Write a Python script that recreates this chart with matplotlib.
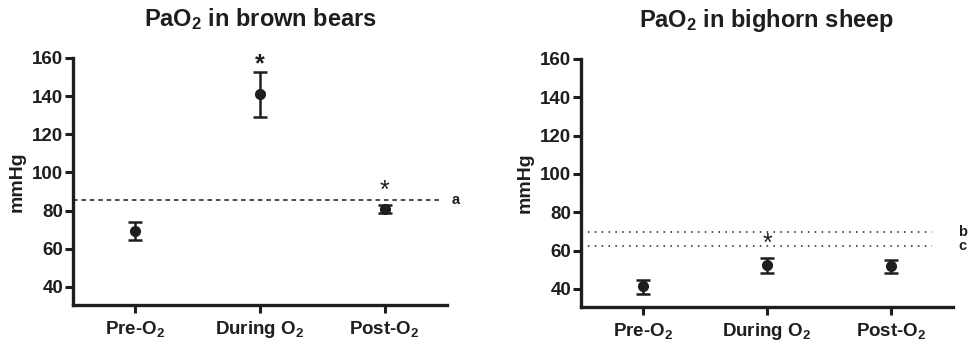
import numpy as np
import matplotlib
matplotlib.use("Agg")
import matplotlib.pyplot as plt

plt.rcParams['font.family'] = ['Liberation Sans', 'DejaVu Sans']
plt.rcParams['font.weight'] = 'bold'
plt.rcParams['axes.titleweight'] = 'bold'
plt.rcParams['axes.labelweight'] = 'bold'
plt.rcParams['mathtext.fontset'] = 'custom'
plt.rcParams['mathtext.rm'] = 'Liberation Sans:bold'
plt.rcParams['mathtext.default'] = 'rm'

ink = '#1e1e1e'

# данные
groups = ['Pre-O$_2$', 'During O$_2$', 'Post-O$_2$']
bear_mean = [69.5, 141.2, 80.9]
bear_hi = [73.8, 152.8, 83.0]
bear_lo = [64.8, 128.8, 78.5]
sheep_mean = [41.5, 52.5, 51.7]
sheep_hi = [44.8, 56.0, 55.2]
sheep_lo = [37.5, 48.5, 48.0]
bear_star = [None, '*', '*']
sheep_star = [None, '*', None]
bear_ref = [('a', 85.7)]
sheep_ref = [('b', 69.9), ('c', 62.3)]
titles = ['PaO$_2$ in brown bears', 'PaO$_2$ in bighorn sheep']

fig = plt.figure(figsize=(9.7, 3.41), dpi=100)
ax1 = fig.add_axes([0.0753, 0.1056, 0.3856, 0.7244])
ax2 = fig.add_axes([0.5990, 0.0997, 0.3835, 0.7273])

def panel(ax, mean, hi, lo, stars, refs, ls, xend, title):
    x = np.arange(len(mean))
    mean = np.array(mean)
    err = [mean - np.array(lo), np.array(hi) - mean]
    ax.errorbar(x, mean, yerr=err, fmt='o', color=ink, ms=7, elinewidth=1.8,
                capsize=5, capthick=1.8, zorder=3)
    for name, v in refs:
        ax.hlines(v, -0.5, xend, colors=ink, linestyles=ls, linewidth=1.1)
        ax.text(2.54, v, name, ha='left', va='center', fontsize=10.5,
                color=ink, clip_on=False)
    for i, s in enumerate(stars):
        if s:
            if mean[i] > 100:
                ax.text(x[i], hi[i] - 2.5, s, ha='center', va='bottom',
                        fontsize=18, color=ink)
            else:
                ax.text(x[i], hi[i] + 1, s, ha='center', va='bottom',
                        fontsize=18, fontweight='normal', color=ink)
    ax.set_xlim(-0.5, 2.5)
    ax.set_ylim(30.5, 160)
    ax.set_yticks(range(40, 161, 20))
    ax.set_xticks(x)
    ax.set_xticklabels(groups, fontsize=13.5)
    ax.tick_params(axis='y', labelsize=13.5, length=6, width=2.2, color=ink,
                   labelcolor=ink, pad=1)
    ax.tick_params(axis='x', length=6, width=2.2, color=ink, labelcolor=ink, pad=4)
    for sp in ['top', 'right']:
        ax.spines[sp].set_visible(False)
    for sp in ['left', 'bottom']:
        ax.spines[sp].set_linewidth(2.4)
        ax.spines[sp].set_color(ink)
    ax.set_ylabel('mmHg', fontsize=14, color=ink, labelpad=5)
    ax.set_title(title, fontsize=17, color=ink, pad=23)

panel(ax1, bear_mean, bear_hi, bear_lo, bear_star, bear_ref, (0, (3, 2.5)), 2.45, titles[0])
panel(ax2, sheep_mean, sheep_hi, sheep_lo, sheep_star, sheep_ref, (0, (1, 3.5)), 2.33, titles[1])

fig.savefig('out.png', dpi=100)
